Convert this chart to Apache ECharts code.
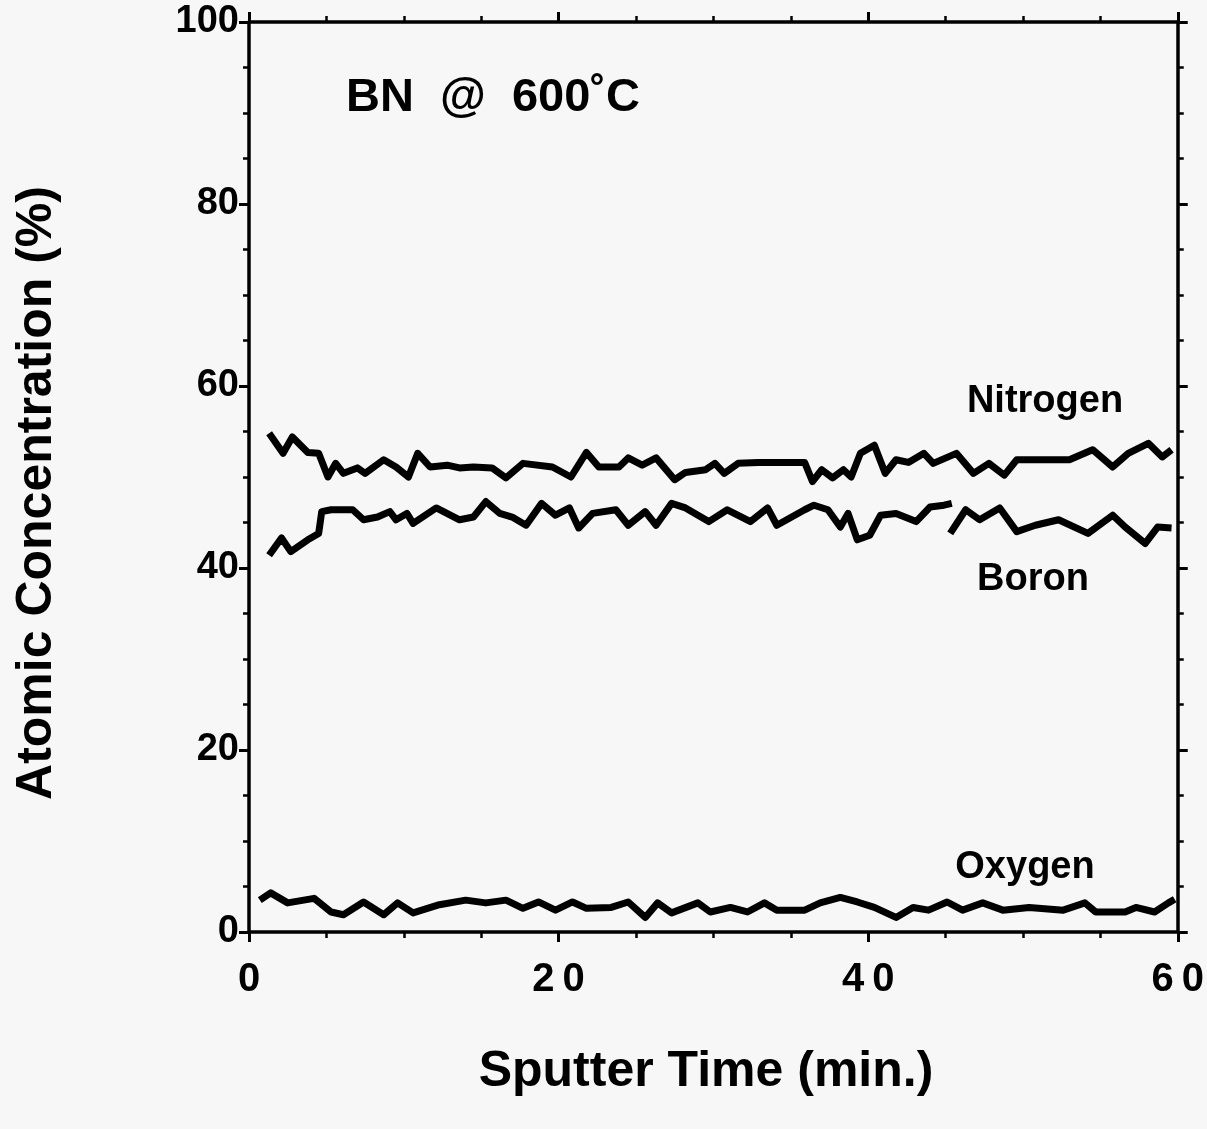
<!DOCTYPE html>
<html>
<head>
<meta charset="utf-8">
<script src="https://cdn.jsdelivr.net/npm/echarts@6/dist/echarts.min.js"></script>
<style>
  html, body { margin: 0; padding: 0; background: #f7f7f7; }
  #chart { width: 1207px; height: 1129px; }
</style>
</head>
<body>
<div id="chart"></div>
<script>
// sputter time (min) and atomic concentration (%)
var nitrogenTime = [1.3, 2.2, 2.8, 3.8, 4.5, 5.1, 5.6, 6.1, 7.0, 7.5, 8.7, 9.5, 10.3, 10.9, 11.7, 12.8, 13.6, 14.5, 15.7, 16.6, 17.7, 19.6, 20.8, 21.8, 22.6, 23.9, 24.5, 25.4, 26.3, 27.5, 28.2, 29.5, 30.1, 30.7, 31.6, 32.9, 35.9, 36.4, 37.0, 37.7, 38.4, 38.9, 39.5, 40.4, 41.1, 41.8, 42.6, 43.6, 44.2, 45.7, 46.8, 47.8, 48.8, 49.6, 53.0, 54.5, 55.8, 56.8, 58.1, 59.0, 59.6];
var nitrogenPct = [54.8, 52.6, 54.4, 52.7, 52.6, 50.0, 51.5, 50.4, 51.0, 50.4, 51.9, 51.1, 50.0, 52.6, 51.1, 51.3, 51.0, 51.1, 51.0, 49.9, 51.5, 51.1, 50.0, 52.7, 51.1, 51.1, 52.1, 51.3, 52.1, 49.7, 50.5, 50.8, 51.5, 50.4, 51.5, 51.6, 51.6, 49.5, 50.8, 49.9, 50.8, 50.0, 52.6, 53.5, 50.4, 51.9, 51.6, 52.6, 51.5, 52.6, 50.4, 51.5, 50.2, 51.9, 51.9, 53.0, 51.1, 52.6, 53.7, 52.2, 53.0];

// boron trace has a break near 45 min ('-' = no data)
var boronTime = [1.3, 2.1, 2.7, 3.8, 4.5, 4.7, 5.3, 6.7, 7.4, 8.3, 9.1, 9.5, 10.2, 10.6, 12.1, 13.6, 14.5, 15.3, 16.2, 17.0, 17.9, 18.9, 19.8, 20.7, 21.3, 22.2, 23.7, 24.5, 25.6, 26.3, 27.3, 28.2, 29.7, 30.9, 32.4, 33.5, 34.1, 35.9, 36.5, 37.4, 38.2, 38.7, 39.3, 40.1, 40.8, 41.8, 43.1, 44.0, 44.9, 45.4, 45.35, 45.3, 46.3, 47.2, 48.5, 49.6, 50.8, 52.3, 54.2, 55.8, 56.6, 57.9, 58.7, 59.6];
var boronPct = [41.4, 43.3, 41.8, 43.1, 43.8, 46.2, 46.4, 46.4, 45.3, 45.6, 46.2, 45.3, 46.0, 44.9, 46.6, 45.3, 45.6, 47.3, 46.0, 45.6, 44.7, 47.1, 45.8, 46.6, 44.4, 46.0, 46.4, 44.7, 46.2, 44.7, 47.1, 46.6, 45.1, 46.4, 45.1, 46.6, 44.7, 46.4, 46.9, 46.4, 44.5, 46.0, 43.1, 43.6, 45.8, 46.0, 45.1, 46.7, 46.9, 47.1, '-', 43.8, 46.4, 45.3, 46.6, 44.0, 44.7, 45.3, 43.8, 45.8, 44.5, 42.7, 44.5, 44.4];

var oxygenTime = [0.7, 1.4, 2.5, 4.2, 5.3, 6.1, 7.4, 8.7, 9.6, 10.6, 12.3, 14.0, 15.3, 16.6, 17.7, 18.7, 19.8, 20.9, 21.8, 23.4, 24.5, 25.6, 26.4, 27.3, 29.0, 29.8, 31.1, 32.2, 33.3, 34.1, 35.9, 36.9, 38.2, 39.3, 40.4, 41.8, 42.9, 43.9, 45.1, 46.1, 47.4, 48.7, 50.4, 52.6, 54.0, 54.7, 56.6, 57.3, 58.5, 59.4, 59.8];
var oxygenPct = [3.5, 4.3, 3.2, 3.7, 2.2, 1.9, 3.3, 1.9, 3.2, 2.1, 3.0, 3.5, 3.2, 3.5, 2.6, 3.3, 2.4, 3.3, 2.6, 2.7, 3.3, 1.6, 3.2, 2.1, 3.2, 2.2, 2.7, 2.2, 3.2, 2.4, 2.4, 3.2, 3.8, 3.3, 2.7, 1.6, 2.7, 2.4, 3.3, 2.4, 3.2, 2.4, 2.7, 2.4, 3.2, 2.2, 2.2, 2.7, 2.2, 3.2, 3.6];

function pairs(t, v) {
    var out = [];
    for (var i = 0; i < t.length; i++) {
        out.push([t[i], v[i]]);
    }
    return out;
}

var FONT = 'Liberation Sans, Arial, Helvetica, sans-serif';
var NARROW = 'Liberation Sans Narrow, Arial Narrow, Liberation Sans, sans-serif';
var INK = '#000';

var myChart = echarts.init(document.getElementById('chart'));

function axisBase(pos, isX, showLabel) {
    return {
        type: 'value',
        position: pos,
        min: 0,
        max: isX ? 60 : 100,
        interval: 20,
        axisLine: { show: true, onZero: false, lineStyle: { color: INK, width: 3.5 } },
        axisTick: { show: true, length: 10, lineStyle: { color: INK, width: 3 } },
        minorTick: { show: true, splitNumber: 4, length: 6, lineStyle: { color: INK, width: 2.5 } },
        splitLine: { show: false },
        minorSplitLine: { show: false },
        axisLabel: {
            show: showLabel,
            color: INK,
            fontFamily: NARROW,
            fontWeight: 'bold',
            fontSize: isX ? 40 : 38,
            margin: isX ? 28 : 10,
            formatter: function (v) {
                return isX ? String(v).split('').join('\u2009') : String(v);
            }
        }
    };
}

var option = {
    backgroundColor: '#f7f7f7',
    animation: false,
    grid: { left: 249, right: 26, top: 22, bottom: 197, containLabel: false },
    xAxis: [axisBase('bottom', true, true), axisBase('top', true, false)],
    yAxis: [axisBase('left', false, true), axisBase('right', false, false)],
    series: [
        {
            name: 'Nitrogen', type: 'line', data: pairs(nitrogenTime, nitrogenPct),
            showSymbol: false, symbol: 'none',
            lineStyle: { color: INK, width: 7, join: 'round' }
        },
        {
            name: 'Boron', type: 'line', data: pairs(boronTime, boronPct),
            showSymbol: false, symbol: 'none', connectNulls: false,
            lineStyle: { color: INK, width: 7, join: 'round' }
        },
        {
            name: 'Oxygen', type: 'line', data: pairs(oxygenTime, oxygenPct),
            showSymbol: false, symbol: 'none',
            lineStyle: { color: INK, width: 7, join: 'round' }
        }
    ],
    graphic: [
        { type: 'text', left: 346, top: 75,
          style: { text: 'BN  @  600˚C', font: 'bold 47px ' + FONT, fill: INK } },
        { type: 'text', x: 1045, y: 402,
          style: { text: 'Nitrogen', font: 'bold 38px ' + FONT, fill: INK, align: 'center', verticalAlign: 'middle' } },
        { type: 'text', x: 1033, y: 580,
          style: { text: 'Boron', font: 'bold 38px ' + FONT, fill: INK, align: 'center', verticalAlign: 'middle' } },
        { type: 'text', x: 1025, y: 868,
          style: { text: 'Oxygen', font: 'bold 38px ' + FONT, fill: INK, align: 'center', verticalAlign: 'middle' } },
        { type: 'text', x: 706, y: 1072,
          style: { text: 'Sputter Time (min.)', font: 'bold 50px ' + FONT, fill: INK, align: 'center', verticalAlign: 'middle' } },
        { type: 'text', x: 37, y: 493, rotation: Math.PI / 2,
          style: { text: 'Atomic Concentration (%)', font: 'bold 50px ' + FONT, fill: INK, align: 'center', verticalAlign: 'middle' } }
    ]
};

myChart.setOption(option);
</script>
</body>
</html>
